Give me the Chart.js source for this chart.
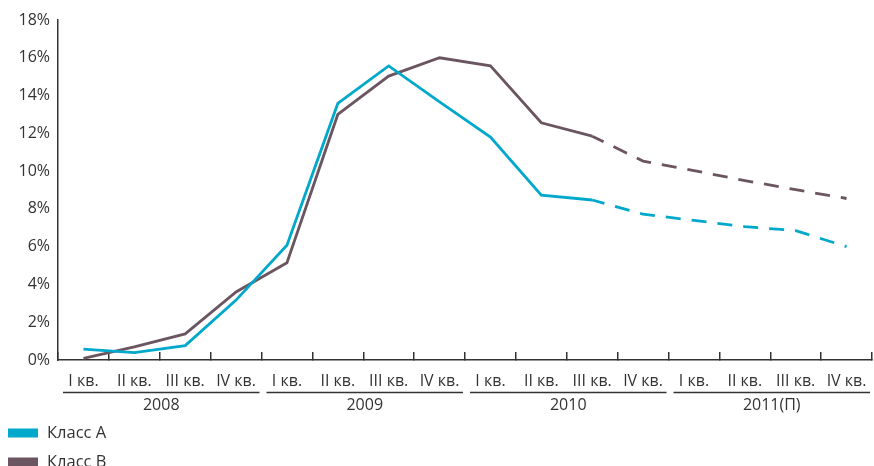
<!DOCTYPE html>
<html>
<head>
<meta charset="utf-8">
<script src="https://cdn.jsdelivr.net/npm/chart.js@4/dist/chart.umd.min.js"></script>
<style>
  html, body { margin: 0; padding: 0; background: #fff; }
  #wrap { width: 874px; height: 466px; position: relative; }
</style>
</head>
<body>
<div id="wrap"><canvas id="chart"></canvas></div>
<script>
// Quarter labels, grouped by year
const quarterLabels = ['I кв.', 'II кв.', 'III кв.', 'IV кв.'];
const yearLabels = ['2008', '2009', '2010', '2011(П)'];
const categories = yearLabels.flatMap(() => quarterLabels);

// Vacancy rate, % (dashed part is the forecast)
const classA = [0.58, 0.39, 0.76, 3.17, 6.08, 13.58, 15.57, 13.67, 11.8, 8.73, 8.47, 7.72, 7.39, 7.06, 6.85, 6.0];
const classB = [0.09, 0.70, 1.38, 3.60, 5.15, 13.0, 15.03, 16.0, 15.57, 12.56, 11.85, 10.53, 10.03, 9.5, 9.02, 8.55];
const forecastFrom = 10;

const seriesNames = ['Класс А', 'Класс В'];
const colorA = '#00a9cb';
const colorB = '#6a5560';
const inkColor = '#333333';
const fontFamily = "'Open Sans', 'Noto Sans', sans-serif";

const dashed = ctx => ctx.p0DataIndex >= forecastFrom ? [15, 11] : undefined;
const dashOffset = ctx => ctx.p0DataIndex >= forecastFrom ? 2.3 : 0;

// Year captions with underlines, and the legend at the bottom left
const extrasPlugin = {
  id: 'extras',
  afterDraw(chart) {
    const { ctx } = chart;
    const x = chart.scales.x;
    const step = x.getPixelForValue(1) - x.getPixelForValue(0);
    ctx.save();
    ctx.strokeStyle = inkColor;
    ctx.fillStyle = inkColor;
    ctx.lineWidth = 1.5;
    ctx.font = '16px ' + fontFamily;
    ctx.textAlign = 'center';
    ctx.textBaseline = 'middle';
    yearLabels.forEach((year, g) => {
      const first = g * quarterLabels.length;
      const last = first + quarterLabels.length - 1;
      const left = x.getPixelForValue(first) - step / 2 + 5;
      const right = x.getPixelForValue(last) + step / 2 - 2;
      ctx.beginPath();
      ctx.moveTo(left, 392.5);
      ctx.lineTo(right, 392.5);
      ctx.stroke();
      ctx.fillText(year, (left + right) / 2, 405);
    });

    ctx.textAlign = 'left';
    ctx.font = '16.5px ' + fontFamily;
    chart.data.datasets.forEach((ds, i) => {
      const cy = 433 + i * 29;
      ctx.fillStyle = ds.borderColor;
      ctx.fillRect(8, cy - 4.5, 30, 9);
      ctx.fillStyle = inkColor;
      ctx.fillText(ds.label, 47, cy);
    });
    ctx.restore();
  }
};

new Chart(document.getElementById('chart'), {
  type: 'line',
  data: {
    labels: categories,
    datasets: [
      { label: seriesNames[0], data: classA, borderColor: colorA, backgroundColor: colorA,
        borderWidth: 2.8, pointRadius: 0, tension: 0,
        segment: { borderDash: dashed, borderDashOffset: dashOffset } },
      { label: seriesNames[1], data: classB, borderColor: colorB, backgroundColor: colorB,
        borderWidth: 2.8, pointRadius: 0, tension: 0,
        segment: { borderDash: dashed, borderDashOffset: dashOffset } }
    ]
  },
  options: {
    responsive: true,
    maintainAspectRatio: false,
    animation: false,
    devicePixelRatio: 1,
    layout: { padding: { top: 20, right: 2, bottom: 0, left: 0 } },
    plugins: { legend: { display: false }, tooltip: { enabled: false } },
    scales: {
      x: {
        type: 'category',
        offset: true,
        grid: { display: true, offset: true, drawOnChartArea: false, drawTicks: true,
                tickLength: -8, color: inkColor, lineWidth: 1.5 },
        border: { display: true, color: inkColor, width: 1.5 },
        ticks: { autoSkip: false, maxRotation: 0, minRotation: 0, padding: 20,
                 color: inkColor, font: { family: fontFamily, size: 16 } },
        afterFit(scale) {
          scale.height = 106;
          scale.paddingLeft = 0;
          scale.paddingRight = 0;
        }
      },
      y: {
        min: 0, max: 18,
        grid: { display: false, drawTicks: false },
        border: { display: true, color: inkColor, width: 1.5 },
        ticks: { stepSize: 2, padding: 8, color: inkColor,
                 font: { family: fontFamily, size: 16 },
                 callback: v => v + '%' },
        afterFit(scale) {
          scale.width = 58;
          scale.paddingTop = 0;
          scale.paddingBottom = 0;
        }
      }
    }
  },
  plugins: [extrasPlugin]
});
</script>
</body>
</html>
